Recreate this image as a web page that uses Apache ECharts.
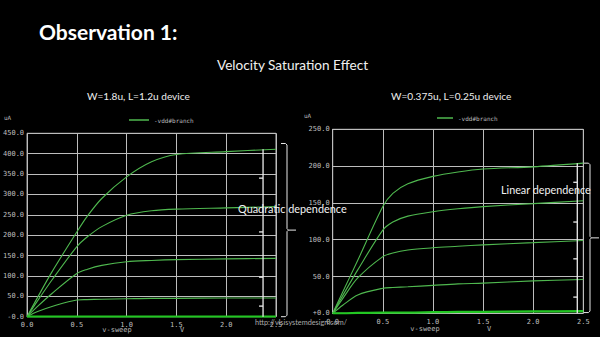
<!DOCTYPE html>
<html>
<head>
<meta charset="utf-8">
<script src="https://cdn.jsdelivr.net/npm/echarts@6/dist/echarts.min.js"></script>
<style>
  html, body { margin: 0; padding: 0; background: #000; }
  #chart { width: 600px; height: 337px; }
</style>
</head>
<body>
<div id="chart"></div>
<script>
// Sweep voltage samples (V) shared by both devices
var vSweep = [0, 0.1, 0.25, 0.5, 0.6, 0.75, 1.0, 1.25, 1.5, 2.0, 2.5];

// W=1.8u, L=1.2u device: drain current (uA) for each gate step
var longDev1 = [0, 45, 110, 208, 245, 290, 343, 380, 398, 405, 411];
var longDev2 = [0, 37, 90, 172, 195, 221, 249, 260, 264, 267, 270];
var longDev3 = [0, 24, 57, 106, 116, 126, 135, 138, 140, 142, 143];
var longDev4 = [0, 12, 25, 41, 42, 43, 44, 45, 45, 46, 46];
var longDev5 = [0, 0, 0, 0, 0, 0, 0, 0, 0, 0, 0];

// W=0.375u, L=0.25u device: drain current (uA) for each gate step
var shortDev1 = [0, 29, 72, 145, 163, 176, 186, 192, 196, 199, 204];
var shortDev2 = [0, 24, 59, 113, 124, 132, 138, 142, 145, 149, 153];
var shortDev3 = [0, 20, 48, 77, 82, 86, 89, 91, 93, 96, 99];
var shortDev4 = [0, 11, 25, 34, 35, 36, 38, 40, 41, 44, 46];
var shortDev5 = [0, 0, 0.5, 1, 1, 1, 1.5, 2, 2, 2.5, 3];

// Axis tick labels
var xTickLabels = ['0.0', '0.5', '1.0', '1.5', '2.0', '2.5'];
var longYTickLabels = ['-0.0', '50.0', '100.0', '150.0', '200.0', '250.0', '300.0', '350.0', '400.0', '450.0'];
var shortYTickLabels = ['+0.0', '50.0', '100.0', '150.0', '200.0', '250.0'];

// Annotation levels: where each vertical marker stands and its small tick levels
var longMarkerX = 2.37;
var longMarkerTicks = [340, 208, 97, 26];
var shortMarkerX = 2.44;
var shortMarkerTicks = [178, 124, 74, 22];

var seriesName = '-vdd#branch';
var mono = 'DejaVu Sans Mono';
var sans = 'Lato';
var gridColor = '#bdbdbd';
var curveColor = '#4fb84f';

function pairs(ys) {
  return vSweep.map(function (x, i) { return [x, ys[i]]; });
}

function curve(ys, gi, bottom) {
  return {
    name: seriesName,
    type: 'line',
    xAxisIndex: gi,
    yAxisIndex: gi,
    data: pairs(ys),
    smooth: 0.3,
    showSymbol: false,
    silent: true,
    z: bottom ? 4 : 3,
    lineStyle: { color: bottom ? '#22c722' : curveColor, width: bottom ? 2.2 : 1.1 },
    itemStyle: { color: curveColor }
  };
}

function xAxisCfg(gi) {
  return {
    gridIndex: gi, type: 'value', min: 0, max: 2.5, interval: 0.5,
    axisLine: { show: false }, axisTick: { show: false },
    splitLine: { lineStyle: { color: gridColor, width: 1 } },
    axisLabel: {
      color: '#bfbfbf', fontFamily: mono, fontSize: 7, margin: 5,
      formatter: function (v) { return xTickLabels[Math.round(v / 0.5)]; }
    }
  };
}

function yAxisCfg(gi, max, labels) {
  return {
    gridIndex: gi, type: 'value', min: 0, max: max, interval: 50,
    axisLine: { show: true, lineStyle: { color: gridColor } }, axisTick: { show: false },
    splitLine: { lineStyle: { color: gridColor, width: 1 } },
    axisLabel: {
      color: '#bfbfbf', fontFamily: mono, fontSize: 7, margin: 3,
      formatter: function (v) { return labels[Math.round(v / 50)]; }
    }
  };
}

var chart = echarts.init(document.getElementById('chart'), null, { renderer: 'svg' });

var option = {
  backgroundColor: '#000',
  animation: false,
  title: [
    { text: 'Observation 1:', left: 34, top: 16,
      textStyle: { color: '#fff', fontFamily: sans, fontWeight: 'bold', fontSize: 21 } },
    { text: 'Velocity Saturation Effect', left: 212, top: 53,
      textStyle: { color: '#f0f0f0', fontFamily: sans, fontWeight: 'normal', fontSize: 13.6 } },
    { text: 'W=1.8u, L=1.2u device', left: 82, top: 86,
      textStyle: { color: '#eee', fontFamily: sans, fontWeight: 'normal', fontSize: 10.1 } },
    { text: 'W=0.375u, L=0.25u device', left: 386, top: 86,
      textStyle: { color: '#eee', fontFamily: sans, fontWeight: 'normal', fontSize: 10.1 } }
  ],
  legend: [
    { data: [seriesName], left: 124, top: 112, itemWidth: 20, itemHeight: 1.5, icon: 'rect',
      itemGap: 4, textStyle: { color: '#bbb', fontFamily: mono, fontSize: 6 }, selectedMode: false },
    { data: [seriesName], left: 432, top: 110, itemWidth: 16, itemHeight: 1.5, icon: 'rect',
      itemGap: 4, textStyle: { color: '#bbb', fontFamily: mono, fontSize: 6 }, selectedMode: false }
  ],
  grid: [
    { left: 25, top: 133.3, width: 251, height: 183.4, show: true, borderColor: gridColor, borderWidth: 1 },
    { left: 332.7, top: 129.3, width: 250.6, height: 184, show: true, borderColor: gridColor, borderWidth: 1 }
  ],
  xAxis: [xAxisCfg(0), xAxisCfg(1)],
  yAxis: [yAxisCfg(0, 450, longYTickLabels), yAxisCfg(1, 250, shortYTickLabels)],
  series: [
    curve(longDev1, 0), curve(longDev2, 0), curve(longDev3, 0), curve(longDev4, 0), curve(longDev5, 0, true),
    curve(shortDev1, 1), curve(shortDev2, 1), curve(shortDev3, 1), curve(shortDev4, 1), curve(shortDev5, 1, true)
  ]
};
chart.setOption(option);

// Annotations: unit labels, axis names, markers, braces and remarks
function px(gi, x, y) { return chart.convertToPixel({ gridIndex: gi }, [x, y]); }

var stroke = { stroke: '#ececec', lineWidth: 1.3 };

function seg(x1, y1, x2, y2) {
  return { type: 'line', shape: { x1: x1, y1: y1, x2: x2, y2: y2 }, style: stroke, z: 10 };
}

function markerGroup(gi, mx, topVal, ticks, braceX, braceTop, braceBottom) {
  var els = [];
  var top = px(gi, mx, topVal), bot = px(gi, mx, 0);
  els.push(seg(top[0], top[1], bot[0], bot[1]));
  ticks.forEach(function (t) {
    var p = px(gi, mx, t);
    els.push(seg(p[0] - 4, p[1], p[0], p[1]));
  });
  // curly brace drawn from straight pieces with small bevelled corners
  var bt = px(gi, 0, braceTop)[1], bb = px(gi, 0, braceBottom)[1];
  var mid = (bt + bb) / 2;
  els.push({ type: 'polyline', shape: { points: [
    [braceX - 6, bt], [braceX - 1.5, bt], [braceX, bt + 1.5], [braceX, mid - 1.5],
    [braceX + 1.5, mid], [braceX + 9, mid]
  ] }, style: { stroke: '#e8e8e8', lineWidth: 1, fill: null }, z: 10 });
  els.push({ type: 'polyline', shape: { points: [
    [braceX + 1.5, mid], [braceX, mid + 1.5], [braceX, bb - 1.5], [braceX - 1.5, bb], [braceX - 6, bb]
  ] }, style: { stroke: '#e8e8e8', lineWidth: 1, fill: null }, z: 10 });
  return els;
}

function txt(x, y, s, font, size, color, align) {
  return {
    type: 'text', x: x, y: y, z: 20,
    style: { text: s, fill: color, fontFamily: font, fontSize: size,
      align: align || 'left', verticalAlign: 'middle' }
  };
}

var g = [];
g = g.concat(markerGroup(0, longMarkerX, longDev1[10], longMarkerTicks, 287, 425, 0));
g = g.concat(markerGroup(1, shortMarkerX, shortDev1[10], shortMarkerTicks, 590, 204, 1));
g.push(txt(4, 117, 'uA', mono, 6, '#bbb'));
g.push(txt(304, 115, 'uA', mono, 6, '#bbb'));
g.push(txt(117, 330, 'v-sweep', mono, 7, '#bbb', 'center'));
g.push(txt(182, 330, 'V', mono, 7, '#bbb', 'center'));
g.push(txt(425, 329, 'v-sweep', mono, 7, '#bbb', 'center'));
g.push(txt(489, 329, 'V', mono, 7, '#bbb', 'center'));
g.push(txt(238, 208, 'Quadratic dependence', sans, 10.9, '#f2f2f2'));
g.push(txt(501, 189, 'Linear dependence', sans, 10.8, '#f2f2f2'));
g.push(txt(255, 322, 'http://vlsisystemdesign.com/', sans, 7.3, '#aaa'));

chart.setOption({ graphic: { elements: g } });
</script>
</body>
</html>
